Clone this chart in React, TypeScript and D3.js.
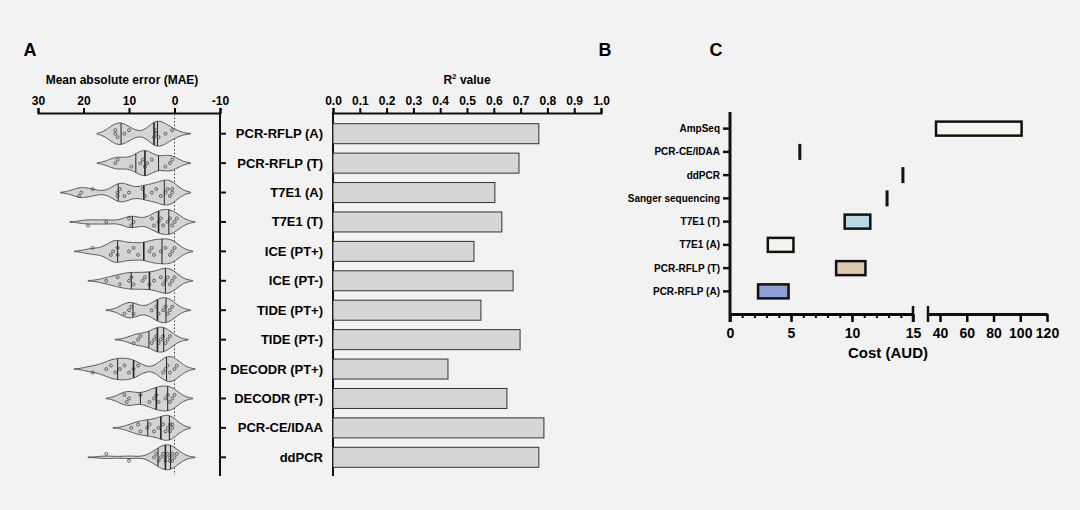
import React, { useEffect, useRef } from 'react'
import * as d3 from 'd3'

const methods = ['PCR-RFLP (A)', 'PCR-RFLP (T)', 'T7E1 (A)', 'T7E1 (T)', 'ICE (PT+)', 'ICE (PT-)', 'TIDE (PT+)', 'TIDE (PT-)', 'DECODR (PT+)', 'DECODR (PT-)', 'PCR-CE/IDAA', 'ddPCR']
const r2Values = [0.768, 0.694, 0.604, 0.63, 0.526, 0.672, 0.552, 0.698, 0.429, 0.649, 0.787, 0.768]
const maePoints = [
  [13, 13, 12.5, 11, 10, 4.5, 4, 4, 3.5, 2, 0.5],
  [13, 12.5, 9.5, 7.5, 7, 6.5, 6, 5, 2, 1, 0.5],
  [21, 20.5, 18, 12.5, 12.5, 12, 11, 10, 7, 6.5, 5, 4, 3, 2, 1.5, 1, 0.5, 0.5],
  [19, 15, 10, 9.5, 9, 5, 4.5, 3.5, 3, 2.5, 1.5, 1, 0.5, 0, -0.5],
  [18, 14, 13.5, 12.5, 12.5, 10, 9, 8, 5.5, 5, 4.5, 3, 2, 1, 0.5, 0],
  [15, 12.5, 12, 10, 9.5, 9, 7, 6.5, 5.5, 4.5, 3, 2.5, 2, 1.5, 1, 0.5, 0],
  [11, 10, 9.5, 9, 5, 4, 3.5, 2.5, 2, 1.5, 1, 0.5],
  [9, 8, 7.5, 5, 4.5, 4, 3.5, 3, 2.5, 2, 1.5, 1],
  [18, 15, 14, 13, 12, 11, 10, 9, 8, 2.5, 2, 1.5, 1, 0, -0.5],
  [11, 10.5, 10, 7.5, 5.5, 4.5, 4, 3.5, 2, 1.5, 1, 0.5, 0],
  [9.5, 8, 7.5, 6, 5.5, 4.5, 3.5, 2.5, 2, 1.5, 1, 1, 0.5, 0.5],
  [15, 10, 4.5, 4, 3.5, 3, 2.5, 2, 2, 1.5, 1, 1, 0.5, 0.5, 0, -0.5]
]
const maeTicks = [30, 20, 10, 0, -10]
const r2Ticks = d3.range(0, 1.01, 0.1)

const costMethods = ['AmpSeq', 'PCR-CE/IDAA', 'ddPCR', 'Sanger sequencing', 'T7E1 (T)', 'T7E1 (A)', 'PCR-RFLP (T)', 'PCR-RFLP (A)']
const costLow = [37, 5.6, 14.05, 12.75, 9.4, 3.1, 8.7, 2.3]
const costHigh = [101, 5.8, 14.25, 12.95, 11.5, 5.2, 11.1, 4.8]
const costColors = ['#f6f3ec', '#111', '#111', '#111', '#b6d9e3', '#f6f3ec', '#dccab3', '#8c9fd3']
const costTicksA = [0, 5, 10, 15]
const costTicksB = [40, 60, 80, 100, 120]

const App = () => {
  const ref = useRef<SVGSVGElement>(null)

  useEffect(() => {
    const svg = d3.select(ref.current)
    svg.selectAll('*').remove()
    const font = 'Arial, Liberation Sans, sans-serif'
    svg.append('rect').attr('width', 1080).attr('height', 510).attr('fill', '#f2f2f2')
    svg.attr('font-family', font)

    const labels = [['A', 30], ['B', 605], ['C', 716]]
    labels.forEach(([t, x]) => svg.append('text').attr('x', x).attr('y', 56).attr('font-size', 18).attr('font-weight', 'bold').attr('text-anchor', 'middle').text(t as string))

    // panel A
    const axTop = 113
    const y = d3.scaleBand().domain(methods).range([119, 472])
    const xM = d3.scaleLinear().domain([30, -10]).range([38, 220])
    const xR = d3.scaleLinear().domain([0, 1]).range([333, 601])

    const gM = svg.append('g').attr('transform', `translate(0,${axTop})`)
      .call(d3.axisTop(xM).tickValues(maeTicks).tickSize(5).tickFormat(d => String(d)))
    gM.select('.domain').attr('stroke-width', 2).attr('stroke', '#111')
    gM.selectAll('.tick line').attr('stroke-width', 2)
    gM.selectAll('.tick text').attr('font-size', 12).attr('font-weight', 'bold').attr('font-family', font)
    svg.append('text').attr('x', 122).attr('y', 84).attr('text-anchor', 'middle').attr('font-size', 12).attr('font-weight', 'bold').text('Mean absolute error (MAE)')

    svg.append('line').attr('x1', xM(0)).attr('x2', xM(0)).attr('y1', axTop + 1).attr('y2', 475)
      .attr('stroke', '#444').attr('stroke-dasharray', '1.5,2')

    const kde = (pts: number[], xs: number[], bw: number) =>
      xs.map(x => d3.mean(pts, p => Math.exp(-0.5 * ((x - p) / bw) ** 2)) as number)

    methods.forEach((m, i) => {
      const pts = maePoints[i].slice().sort(d3.ascending)
      const cy = y(m)! + y.bandwidth() / 2
      const lo = d3.min(pts)! - 4, hi = d3.max(pts)! + 4
      const xs = d3.range(lo, hi + 0.01, 0.25)
      const dens = kde(pts, xs, 1.8)
      const mx = d3.max(dens)!
      const w = (d: number) => Math.max(0.4, (d / mx) * 12.5)
      const area = d3.area<number>().x((_, j) => xM(xs[j])).y0((d) => cy - w(d)).y1((d) => cy + w(d)).curve(d3.curveBasis)
      svg.append('path').attr('d', area(dens)).attr('fill', '#d4d4d4').attr('stroke', '#333').attr('stroke-width', 0.8)
      const qs = [0.25, 0.5, 0.75].map(q => d3.quantile(pts, q)!)
      qs.forEach((q, k) => {
        const d = kde(pts, [q], 1.8)[0]
        svg.append('line').attr('x1', xM(q)).attr('x2', xM(q)).attr('y1', cy - w(d)).attr('y2', cy + w(d))
          .attr('stroke', '#222').attr('stroke-width', k === 1 ? 1.6 : 1)
      })
      pts.forEach((p, j) => {
        svg.append('circle').attr('cx', xM(p)).attr('cy', cy + ((j % 3) - 1) * 3.5).attr('r', 1.5)
          .attr('fill', 'none').attr('stroke', '#333').attr('stroke-width', 0.7)
      })
    })

    // method axis
    svg.append('line').attr('x1', 220).attr('x2', 220).attr('y1', axTop - 1).attr('y2', 476).attr('stroke', '#111').attr('stroke-width', 2)
    methods.forEach(m => {
      const cy = y(m)! + y.bandwidth() / 2
      svg.append('line').attr('x1', 220).attr('x2', 226).attr('y1', cy).attr('y2', cy).attr('stroke', '#111').attr('stroke-width', 2)
      svg.append('text').attr('x', 323).attr('y', cy + 4.5).attr('text-anchor', 'end').attr('font-size', 13).attr('font-weight', 'bold').text(m)
    })

    const gR = svg.append('g').attr('transform', `translate(0,${axTop})`)
      .call(d3.axisTop(xR).tickValues(r2Ticks).tickSize(5).tickFormat(d3.format('.1f')))
    gR.select('.domain').attr('stroke-width', 2).attr('stroke', '#111')
    gR.selectAll('.tick line').attr('stroke-width', 2)
    gR.selectAll('.tick text').attr('font-size', 12).attr('font-weight', 'bold').attr('font-family', font)
    const tt = svg.append('text').attr('x', 467).attr('y', 84).attr('text-anchor', 'middle').attr('font-size', 12).attr('font-weight', 'bold')
    tt.append('tspan').text('R')
    tt.append('tspan').attr('font-size', 8).attr('dy', -5).text('2')
    tt.append('tspan').attr('dy', 5).text(' value')
    svg.append('line').attr('x1', 333).attr('x2', 333).attr('y1', axTop - 1).attr('y2', 476).attr('stroke', '#111').attr('stroke-width', 2)

    methods.forEach((m, i) => {
      const cy = y(m)! + y.bandwidth() / 2
      svg.append('rect').attr('x', xR(0)).attr('y', cy - 10).attr('width', xR(r2Values[i]) - xR(0)).attr('height', 20)
        .attr('fill', '#d6d6d6').attr('stroke', '#333').attr('stroke-width', 1)
    })

    // panel C
    const yC = d3.scaleBand().domain(costMethods).range([117, 303])
    const xC1 = d3.scaleLinear().domain([0, 15]).range([730, 913])
    const xC2 = d3.scaleLinear().domain([31, 120]).range([928, 1047])
    const xc = (v: number) => (v <= 15 ? xC1(v) : xC2(v))
    const axY = 314
    const ax1 = svg.append('g').attr('transform', `translate(0,${axY})`)
      .call(d3.axisBottom(xC1).tickValues(costTicksA).tickSize(8).tickFormat(d3.format('d')).tickSizeOuter(0))
    ax1.selectAll('.tick line').attr('stroke-width', 2.5)
    svg.append('g').attr('transform', `translate(0,${axY})`)
      .call(d3.axisBottom(xC1).tickValues(d3.range(0, 15, 1)).tickSize(4).tickFormat(() => '').tickSizeOuter(0))
      .selectAll('line').attr('stroke-width', 2)
    const ax2 = svg.append('g').attr('transform', `translate(0,${axY})`)
      .call(d3.axisBottom(xC2).tickValues(costTicksB).tickSize(8).tickFormat(d3.format('d')).tickSizeOuter(0))
    ax2.selectAll('.tick line').attr('stroke-width', 2.5)
    ;[ax1, ax2].forEach(a => {
      a.select('.domain').attr('stroke-width', 3).attr('stroke', '#111')
      a.selectAll('.tick text').attr('font-size', 14).attr('font-weight', 'bold').attr('font-family', font).attr('dy', '0.9em')
    })
    ;[913, 928].forEach(x => svg.append('line').attr('x1', x).attr('x2', x).attr('y1', axY - 8).attr('y2', axY + 8).attr('stroke', '#111').attr('stroke-width', 2.5))
    svg.append('text').attr('x', 888).attr('y', 358).attr('text-anchor', 'middle').attr('font-size', 15).attr('font-weight', 'bold').text('Cost (AUD)')
    svg.append('line').attr('x1', 730).attr('x2', 730).attr('y1', 112).attr('y2', axY + 8).attr('stroke', '#111').attr('stroke-width', 3)
    costMethods.forEach((m, i) => {
      const cy = yC(m)! + yC.bandwidth() / 2
      svg.append('line').attr('x1', 723).attr('x2', 730).attr('y1', cy).attr('y2', cy).attr('stroke', '#111').attr('stroke-width', 2.5)
      svg.append('text').attr('x', 720).attr('y', cy + 3.5).attr('text-anchor', 'end').attr('font-size', 10).attr('font-weight', 'bold').text(m)
      const x0 = xc(costLow[i]), x1 = xc(costHigh[i])
      if (costColors[i] === '#111') {
        svg.append('rect').attr('x', x0).attr('y', cy - 8).attr('width', Math.max(3, x1 - x0)).attr('height', 16).attr('fill', '#111')
      } else {
        svg.append('rect').attr('x', x0).attr('y', cy - 7).attr('width', x1 - x0).attr('height', 14)
          .attr('fill', costColors[i]).attr('stroke', '#111').attr('stroke-width', 2.5)
      }
    })
  }, [])

  return <svg ref={ref} width={1080} height={510} style={{ position: 'absolute', left: 0, top: 0 }} />
}

export default App
